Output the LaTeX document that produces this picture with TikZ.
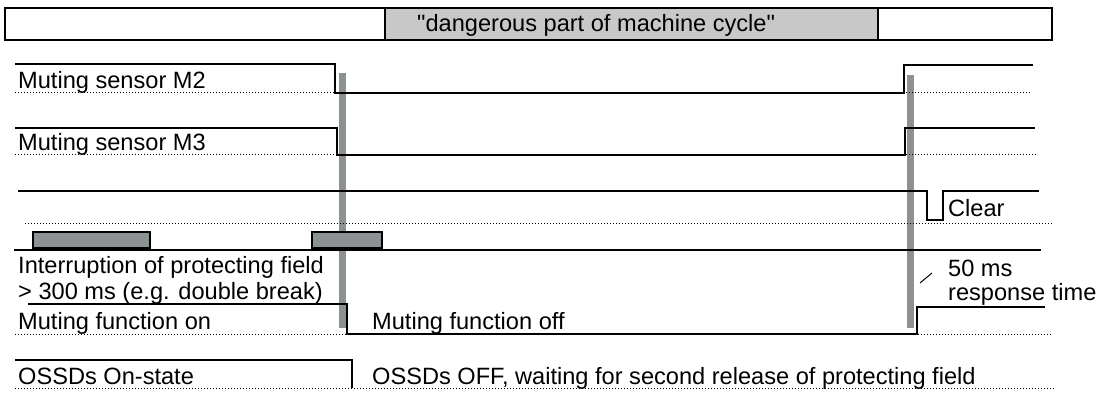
\documentclass[tikz,border=0pt]{standalone}
\usepackage{fontspec}
\setmainfont{Liberation Sans}
\definecolor{bargray}{HTML}{8C9294}
\definecolor{boxgray}{HTML}{C8C8C8}

\begin{document}
\begin{tikzpicture}[x=1pt, y=-1pt,
  sig/.style={line width=1.7pt},
  base/.style={dotted, line width=1pt},
  cut/.style={line width=7pt, draw=bargray},
  lbl/.style={anchor=base west, inner sep=0pt, font=\fontsize{23.6}{28}\selectfont}]
  \useasboundingbox (0,0) rectangle (1098,393);

  % machine cycle
  \draw[sig] (5,8) rectangle (385,40);
  \draw[sig, fill=boxgray] (385,8) rectangle (878,40);
  \draw[sig] (878,8) rectangle (1052,40);
  \node[lbl] (cycle) at (417,32) {\textquotedbl dangerous part of machine cycle\textquotedbl};

  % switching moments
  \draw[cut] (342.5,73) -- (342.5,328);
  \draw[cut] (910,75) -- (910,328);

  % muting sensor M2
  \draw[base] (15,93) -- (1031,93);
  \draw[sig] (15,64) -| (335,93) -| (904,65) -- (1033,65);
  \node[lbl] (m2) at (18,89) {Muting sensor M2};

  % muting sensor M3
  \draw[base] (15,155) -- (1038,155);
  \draw[sig] (15,128) -| (337,155) -| (905,128) -- (1035,128);
  \node[lbl] (m3) at (18,151) {Muting sensor M3};

  % protecting field
  \draw[base] (25,223) -- (1052,223);
  \draw[sig] (18,191) -| (927,220) -| (943,191) -- (1039,191);
  \node[lbl] (clear) at (948,216) {Clear};

  % interruptions
  \foreach \xa/\xb in {33/150, 312/382}
    \draw[fill=bargray, line width=1.2pt] (\xa,232) rectangle (\xb,248);
  \draw[sig] (14,250) -- (1041,250);
  \node[lbl] (intr) at (18,273) {Interruption of protecting field};
  \node[lbl] (dbl) at (18,299) {> 300 ms (e.g. double break)};

  % muting function
  \draw[base] (15,334) -- (1051,334);
  \draw[sig] (28,304) -| (347,334) -| (917,307) -- (1045,307);
  \node[lbl] (mon) at (18,329) {Muting function on};
  \node[lbl] (moff) at (372,329) {Muting function off};

  % response time
  \node[lbl] (resp) at (948,276) {50 ms};
  \node[lbl] (time) at (948,300) {response time};
  \draw[line width=1pt] (920,283) -- (932,273);

  % OSSDs
  \draw[base] (15,388) -- (1055,388);
  \draw[sig] (15,360) -| (352,388);
  \node[lbl] (on) at (18,384) {OSSDs On-state};
  \node[lbl] (off) at (372,384) {OSSDs OFF, waiting for second release of protecting field};
\end{tikzpicture}
\end{document}
